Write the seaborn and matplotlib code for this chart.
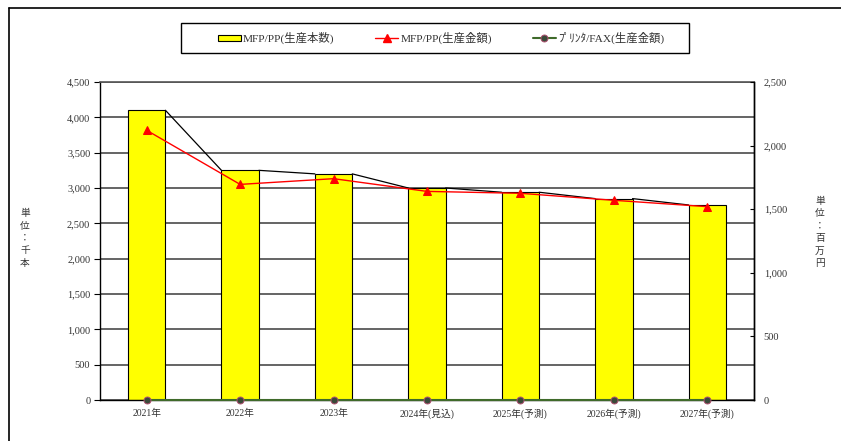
import numpy as np
import matplotlib
matplotlib.use("Agg")
import matplotlib.pyplot as plt
import seaborn as sns
from matplotlib.lines import Line2D
from matplotlib.patches import Patch, Rectangle
from matplotlib.ticker import FuncFormatter, MultipleLocator

categories = ['2021年', '2022年', '2023年', '2024年(見込)', '2025年(予測)', '2026年(予測)', '2027年(予測)']
units = [4100, 3250, 3200, 3000, 2940, 2850, 2760]          # MFP/PP 生産本数 (千本)
amount = [2120, 1695, 1740, 1640, 1625, 1570, 1520]         # MFP/PP 生産金額 (百万円)
printer_fax = [0, 0, 0, 0, 0, 0, 0]                         # プリンタ/FAX 生産金額 (百万円)
left_ticks = [0, 500, 1000, 1500, 2000, 2500, 3000, 3500, 4000, 4500]
right_ticks = [0, 500, 1000, 1500, 2000, 2500]

sns.set_style("white")
plt.rcParams['font.family'] = ['Liberation Serif', 'Noto Sans CJK JP']
plt.rcParams['axes.unicode_minus'] = False

W, H = 841, 441
fig = plt.figure(figsize=(W / 100, H / 100), dpi=100)
ax = fig.add_axes([100 / W, 1 - 400 / H, (754 - 100) / W, (400 - 82) / H])

bar_w = 0.4
sns.barplot(x=categories, y=units, color='#FFFF00', saturation=1, edgecolor='black',
            linewidth=0.8, width=bar_w, ax=ax, zorder=2)
xs = np.arange(len(categories))
# series lines connecting bar tops
for i in range(len(categories) - 1):
    ax.plot([xs[i] + bar_w / 2, xs[i + 1] - bar_w / 2], [units[i], units[i + 1]],
            color='black', lw=0.9, zorder=3)

ax.set_xlim(-0.5, len(categories) - 0.5)
ax.set_ylim(left_ticks[0], left_ticks[-1])
ax.set_yticks(left_ticks)
ax.yaxis.set_major_formatter(FuncFormatter(lambda v, p: f"{int(v):,}"))
ax.grid(axis='y', color='#3a3a3a', lw=1.1, zorder=0)
ax.set_axisbelow(True)
ax.tick_params(axis='y', direction='out', length=4, width=0.8, labelsize=7.5, pad=3, colors='black')
ax.tick_params(axis='y', labelcolor='#333333')
ax.set_xticks(xs)
ax.set_xticks(xs[:-1] + 0.5, minor=True)
ax.tick_params(axis='x', which='major', length=0, labelsize=7, pad=6, labelcolor='#333333')
ax.tick_params(axis='x', which='minor', direction='in', length=3, width=0.8, color='black')
ax.set_xlabel('')
ax.set_ylabel('')
for s in ['left', 'right', 'bottom']:
    ax.spines[s].set_color('black')
    ax.spines[s].set_linewidth(1.0)
ax.spines['top'].set_color('#555555')
ax.spines['top'].set_linewidth(1.2)

ax2 = ax.twinx()
sns.lineplot(x=xs, y=amount, ax=ax2, color='#FF0000', lw=1.0, marker='^', markersize=6,
             markeredgecolor='#FF0000', zorder=4)
sns.lineplot(x=xs, y=printer_fax, ax=ax2, color='#3F6A2A', lw=1.5, marker='o', markersize=5,
             markerfacecolor='#3A4A3A', markeredgecolor='#B05070', markeredgewidth=0.7,
             zorder=4, clip_on=False)
ax2.set_ylim(right_ticks[0], right_ticks[-1])
ax2.set_yticks(right_ticks)
ax2.yaxis.set_major_formatter(FuncFormatter(lambda v, p: f"{int(v):,}"))
ax2.tick_params(axis='y', direction='in', length=3, width=0.8, labelsize=7.5, pad=7,
                labelcolor='#333333', color='black')
ax2.set_ylabel('')
ax2.grid(False)
for s in ax2.spines.values():
    s.set_visible(False)
ax2.spines['right'].set_visible(True)
ax2.spines['right'].set_color('black')
ax2.spines['right'].set_linewidth(1.0)

# unit labels
fig.text(25 / W, 1 - 238 / H, '単\n位\n：\n千\n本', ha='center', va='center', fontsize=7,
         color='#333333', linespacing=1.3, family=['Noto Sans CJK JP'])
fig.text(820 / W, 1 - 232 / H, '単\n位\n：\n百\n万\n円', ha='center', va='center', fontsize=7,
         color='#333333', linespacing=1.3, family=['Noto Sans CJK JP'])

# legend
handles = [
    Patch(facecolor='#FFFF00', edgecolor='black', linewidth=0.8),
    Line2D([0], [0], color='#FF0000', lw=1.0, marker='^', markersize=6, markeredgecolor='#FF0000'),
    Line2D([0], [0], color='#3F6A2A', lw=1.5, marker='o', markersize=5,
           markerfacecolor='#3A4A3A', markeredgecolor='#B05070', markeredgewidth=0.7),
]
labels = ['MFP/PP(生産本数)', 'MFP/PP(生産金額)', 'ﾌﾟﾘﾝﾀ/FAX(生産金額)']
leg = fig.legend(handles, labels, loc='center', ncol=3,
                 bbox_to_anchor=(441 / W, 1 - 38 / H), frameon=False, fontsize=8.2,
                 handlelength=2.0, handleheight=0.5, handletextpad=0.2, columnspacing=3.6,
                 borderpad=0.0)
for t in leg.get_texts():
    t.set_color('#333333')
fig.add_artist(Rectangle((181 / W, 1 - 53 / H), 508 / W, 30 / H, transform=fig.transFigure,
                         fill=False, edgecolor='black', lw=1.0))

# outer frame (top and left visible)
fig.add_artist(Line2D([9 / W, 9 / W], [0, 1 - 8 / H], transform=fig.transFigure, color='black', lw=1.2))
fig.add_artist(Line2D([9 / W, 1], [1 - 8 / H, 1 - 8 / H], transform=fig.transFigure, color='black', lw=1.2))

fig.savefig('out.png', dpi=100)
